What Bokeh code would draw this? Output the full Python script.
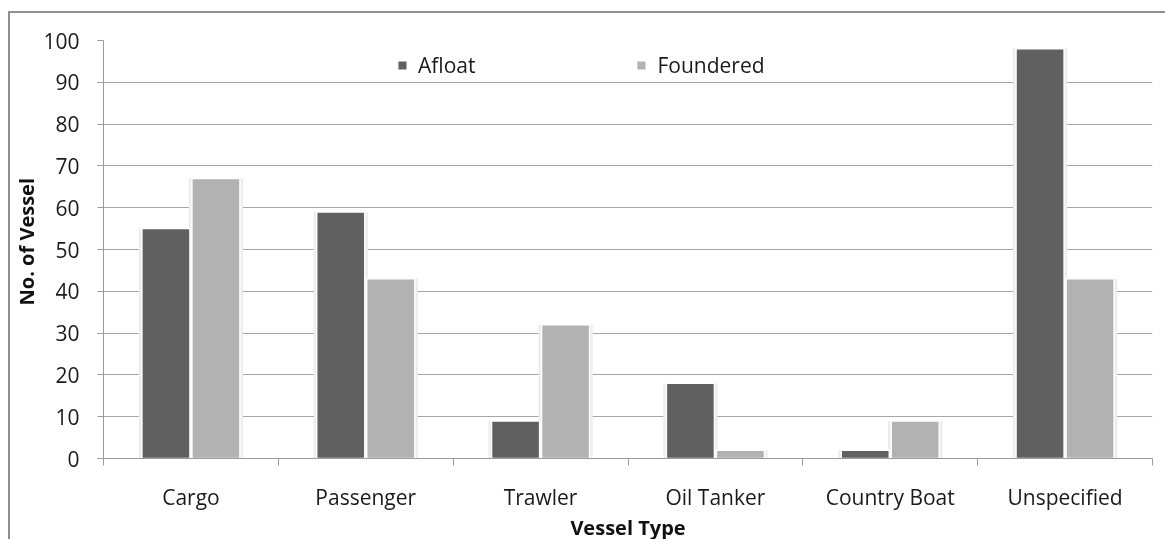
from bokeh.plotting import figure
from bokeh.models import ColumnDataSource, FixedTicker, Range1d, Legend, LegendItem
from bokeh.embed import file_html
from bokeh.resources import INLINE

# Vessel counts by type
vessel_types = ["Cargo", "Passenger", "Trawler", "Oil Tanker", "Country Boat", "Unspecified"]
afloat = [55, 59, 9, 18, 2, 98]
foundered = [67, 43, 32, 2, 9, 43]
y_ticks = [0, 10, 20, 30, 40, 50, 60, 70, 80, 90, 100]

DARK = "#606060"
LIGHT = "#b2b2b2"
FONT = "Open Sans"
TXT = "#1a1a1a"

centers = [i + 0.5 for i in range(len(vessel_types))]
offset = 0.143
bar_w = 0.275

src = ColumnDataSource(dict(
    xa=[c - offset for c in centers],
    xf=[c + offset for c in centers],
    afloat=afloat,
    foundered=foundered,
))

p = figure(frame_width=1049, frame_height=418, output_backend="svg", toolbar_location=None,
           x_range=Range1d(0, len(vessel_types)), y_range=Range1d(0, 100),
           min_border_left=93, min_border_right=30, min_border_top=27,
           min_border_bottom=70, outline_line_color=None,
           background_fill_color="white", border_fill_color="white")

# outer chart border (left and top edges visible); pinned so the page never scrolls
p.styles = {"position": "fixed", "left": "8px", "top": "11px",
            "border-left": "2px solid #8f8f8f", "border-top": "2px solid #8f8f8f"}

# soft shadow behind each bar
shadow_w = bar_w + 0.035
p.vbar(x="xa", top="afloat", width=shadow_w, source=src, fill_color="#ececec",
       line_color=None)
p.vbar(x="xf", top="foundered", width=shadow_w, source=src, fill_color="#ececec",
       line_color=None)

ra = p.vbar(x="xa", top="afloat", width=bar_w, source=src, fill_color=DARK,
            line_color="white", line_width=1.5)
rf = p.vbar(x="xf", top="foundered", width=bar_w, source=src, fill_color=LIGHT,
            line_color="white", line_width=1.5)

# grid
p.xgrid.visible = False
p.ygrid.ticker = FixedTicker(ticks=y_ticks)
p.ygrid.grid_line_color = "#a6a6a6"
p.ygrid.grid_line_width = 1

# y axis
ya = p.yaxis[0]
ya.ticker = FixedTicker(ticks=y_ticks)
ya.axis_line_color = "#9a9a9a"
ya.major_tick_line_color = "#9a9a9a"
ya.major_tick_out = 6
ya.major_tick_in = 0
ya.minor_tick_line_color = None
ya.major_label_text_font = FONT
ya.major_label_text_font_size = "21px"
ya.major_label_text_color = TXT
ya.major_label_standoff = 18
ya.axis_label = "\u00a0\u00a0\u00a0No. of Vessel"
ya.axis_label_text_font = FONT
ya.axis_label_text_font_style = "bold"
ya.axis_label_text_font_size = "20px"
ya.axis_label_text_color = "#111111"
ya.axis_label_standoff = 0

# x axis: labels at category centres, tick marks at category boundaries
xa = p.xaxis[0]
xa.ticker = FixedTicker(ticks=centers, minor_ticks=list(range(len(vessel_types) + 1)))
xa.major_label_overrides = {c: name for c, name in zip(centers, vessel_types)}
xa.axis_line_color = "#9a9a9a"
xa.major_tick_line_color = None
xa.minor_tick_line_color = "#9a9a9a"
xa.minor_tick_out = 7
xa.minor_tick_in = 0
xa.major_label_text_font = FONT
xa.major_label_text_font_size = "21px"
xa.major_label_text_color = TXT
xa.major_label_standoff = 17
xa.axis_label = "Vessel Type"
xa.axis_label_text_font = FONT
xa.axis_label_text_font_style = "bold"
xa.axis_label_text_font_size = "20px"
xa.axis_label_text_color = "#111111"
xa.axis_label_standoff = 0

legend = Legend(items=[LegendItem(label="Afloat", renderers=[ra]),
                       LegendItem(label="Foundered", renderers=[rf])],
                orientation="horizontal", location=(293, 379),
                border_line_color=None, background_fill_alpha=0,
                label_text_font=FONT, label_text_font_size="21px",
                label_text_color=TXT, glyph_width=12, glyph_height=12,
                spacing=160, padding=4, label_standoff=10)
p.add_layout(legend, "center")

open("out.html", "w").write(file_html(p, INLINE))
